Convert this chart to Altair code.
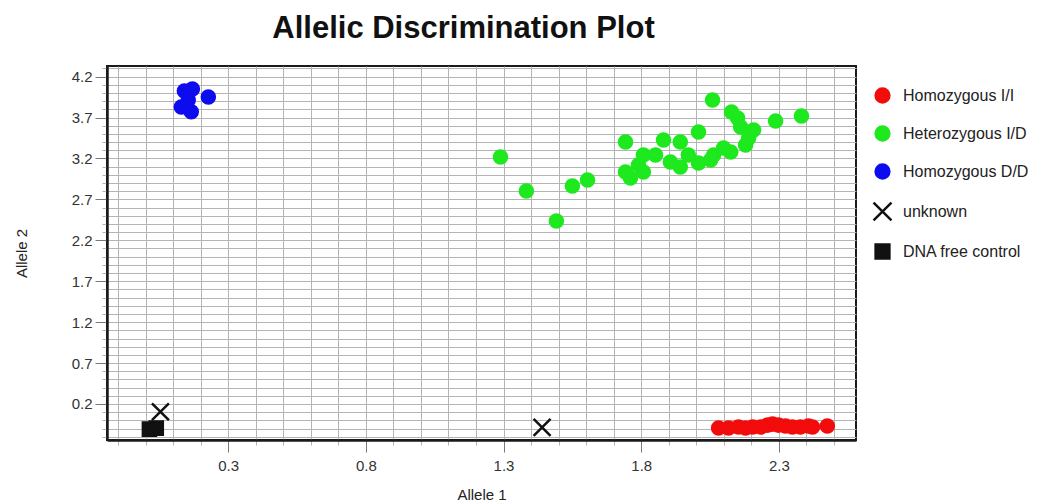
import altair as alt
import pandas as pd

# Allele 1 / Allele 2 signal for each call group
hom_ii_x = [2.081, 2.117, 2.153, 2.179, 2.205, 2.234, 2.259, 2.277, 2.298, 2.324, 2.349, 2.378, 2.407, 2.422, 2.476]
hom_ii_y = [-0.094, -0.094, -0.082, -0.094, -0.082, -0.082, -0.058, -0.046, -0.058, -0.070, -0.082, -0.082, -0.070, -0.082, -0.070]

het_x = [1.289, 1.383, 1.492, 1.550, 1.605, 1.743, 1.743, 1.761, 1.790, 1.808, 1.808, 1.852, 1.881,
         1.906, 1.942, 1.942, 1.971, 2.008, 2.008, 2.052, 2.059, 2.063, 2.099, 2.125, 2.128, 2.150,
         2.161, 2.179, 2.190, 2.208, 2.288, 2.382]
het_y = [3.218, 2.803, 2.436, 2.864, 2.937, 3.402, 3.035, 2.962, 3.121, 3.243, 3.035, 3.243, 3.426,
         3.157, 3.402, 3.096, 3.243, 3.524, 3.145, 3.182, 3.915, 3.243, 3.328, 3.279, 3.768, 3.694,
         3.585, 3.365, 3.450, 3.548, 3.658, 3.720]

hom_dd_x = [0.141, 0.170, 0.228, 0.130, 0.166, 0.155]
hom_dd_y = [4.025, 4.050, 3.950, 3.830, 3.770, 3.915]

unknown_x = [0.054, 1.440]
unknown_y = [0.105, -0.086]

ntc_x = [0.014, 0.039]
ntc_y = [-0.107, -0.095]

groups = ["Homozygous I/I", "Heterozygous I/D", "Homozygous D/D", "unknown", "DNA free control"]
group_colors = ["#f20c0c", "#1ee81e", "#0c0cee", "#111111", "#111111"]
cross_path = "M-1.3,-1.3L1.3,1.3M-1.3,1.3L1.3,-1.3"
group_shapes = ["circle", "circle", "circle", cross_path, "square"]

x_labels = [0.3, 0.8, 1.3, 1.8, 2.3]
y_labels = [0.2, 0.7, 1.2, 1.7, 2.2, 2.7, 3.2, 3.7, 4.2]
x_grid = [round(-0.1 + 0.1 * i, 1) for i in range(27)]
y_grid = [round(-0.2 + 0.1 * i, 1) for i in range(46)]

rows = []
for name, xs, ys in [
    (groups[0], hom_ii_x, hom_ii_y),
    (groups[1], het_x, het_y),
    (groups[2], hom_dd_x, hom_dd_y),
    (groups[4], ntc_x, ntc_y),
    (groups[3], unknown_x, unknown_y),
]:
    for a, b in zip(xs, ys):
        rows.append({"allele1": a, "allele2": b, "group": name})
df = pd.DataFrame(rows)
df["order"] = range(len(df))


def major_test(values):
    arr = ",".join(str(v) for v in values)
    return f"indexof([{arr}], datum.value) >= 0"


def make_axis(grid_values, label_values, title, **extra):
    test = major_test(label_values)
    return alt.Axis(
        values=grid_values,
        format=".1f",
        labelExpr=f"{test} ? datum.label : ''",
        labelOverlap=False,
        labelFlush=False,
        grid=True,
        gridColor="#b4b4b4",
        gridWidth=1,
        tickSize={"condition": {"test": test, "value": 12}, "value": 5},
        tickColor={"condition": {"test": test, "value": "#7a7a7a"}, "value": "#b4b4b4"},
        tickWidth=1,
        domainColor="#1a1a1a",
        domainWidth=2.5,
        labelFont="Liberation Sans",
        labelFontSize=15,
        labelColor="#333333",
        titleFont="Liberation Sans",
        titleFontSize=15,
        titleFontWeight="normal",
        titleColor="#222222",
        title=title,
        **extra,
    )


legend = alt.Legend(
    title=None,
    orient="none",
    legendX=767,
    legendY=21,
    symbolSize=190,
    symbolStrokeWidth=2.5,
    labelFont="Liberation Sans",
    labelFontSize=16,
    labelColor="#222222",
    labelOffset=12,
    rowPadding=13,
    padding=0,
)

points = alt.Chart(df).mark_point(
    filled=False, size=170, strokeWidth=2.5, opacity=1, fillOpacity=1
).encode(
    x=alt.X("allele1:Q",
            scale=alt.Scale(domain=[-0.14, 2.58], nice=False, zero=False),
            axis=make_axis(x_grid, x_labels, "Allele 1", labelPadding=6, titlePadding=14)),
    y=alt.Y("allele2:Q",
            scale=alt.Scale(domain=[-0.24, 4.33], nice=False, zero=False),
            axis=make_axis(y_grid, y_labels, "Allele 2", labelPadding=3, titlePadding=42)),
    stroke=alt.Stroke("group:N", scale=alt.Scale(domain=groups, range=group_colors), legend=legend),
    fill=alt.Fill("group:N", scale=alt.Scale(domain=groups, range=group_colors), legend=legend),
    shape=alt.Shape("group:N", scale=alt.Scale(domain=groups, range=group_shapes), legend=legend),
    order="order:Q",
)

chart = points.properties(
    width=749,
    height=374,
    padding={"left": 107, "top": 66, "right": 199, "bottom": 64},
    autosize=alt.AutoSizeParams(type="none"),
    background="white",
    title=alt.TitleParams(
        "Allelic Discrimination Plot",
        font="Liberation Sans",
        fontSize=31,
        fontWeight="bold",
        color="#111111",
        anchor="middle",
        frame="group",
        baseline="alphabetic",
        offset=26,
        dx=-18,
        dy=34,
    ),
).configure_view(stroke="#1a1a1a", strokeWidth=2)

chart.save("out.html", embed_options={"renderer": "svg", "actions": False})
